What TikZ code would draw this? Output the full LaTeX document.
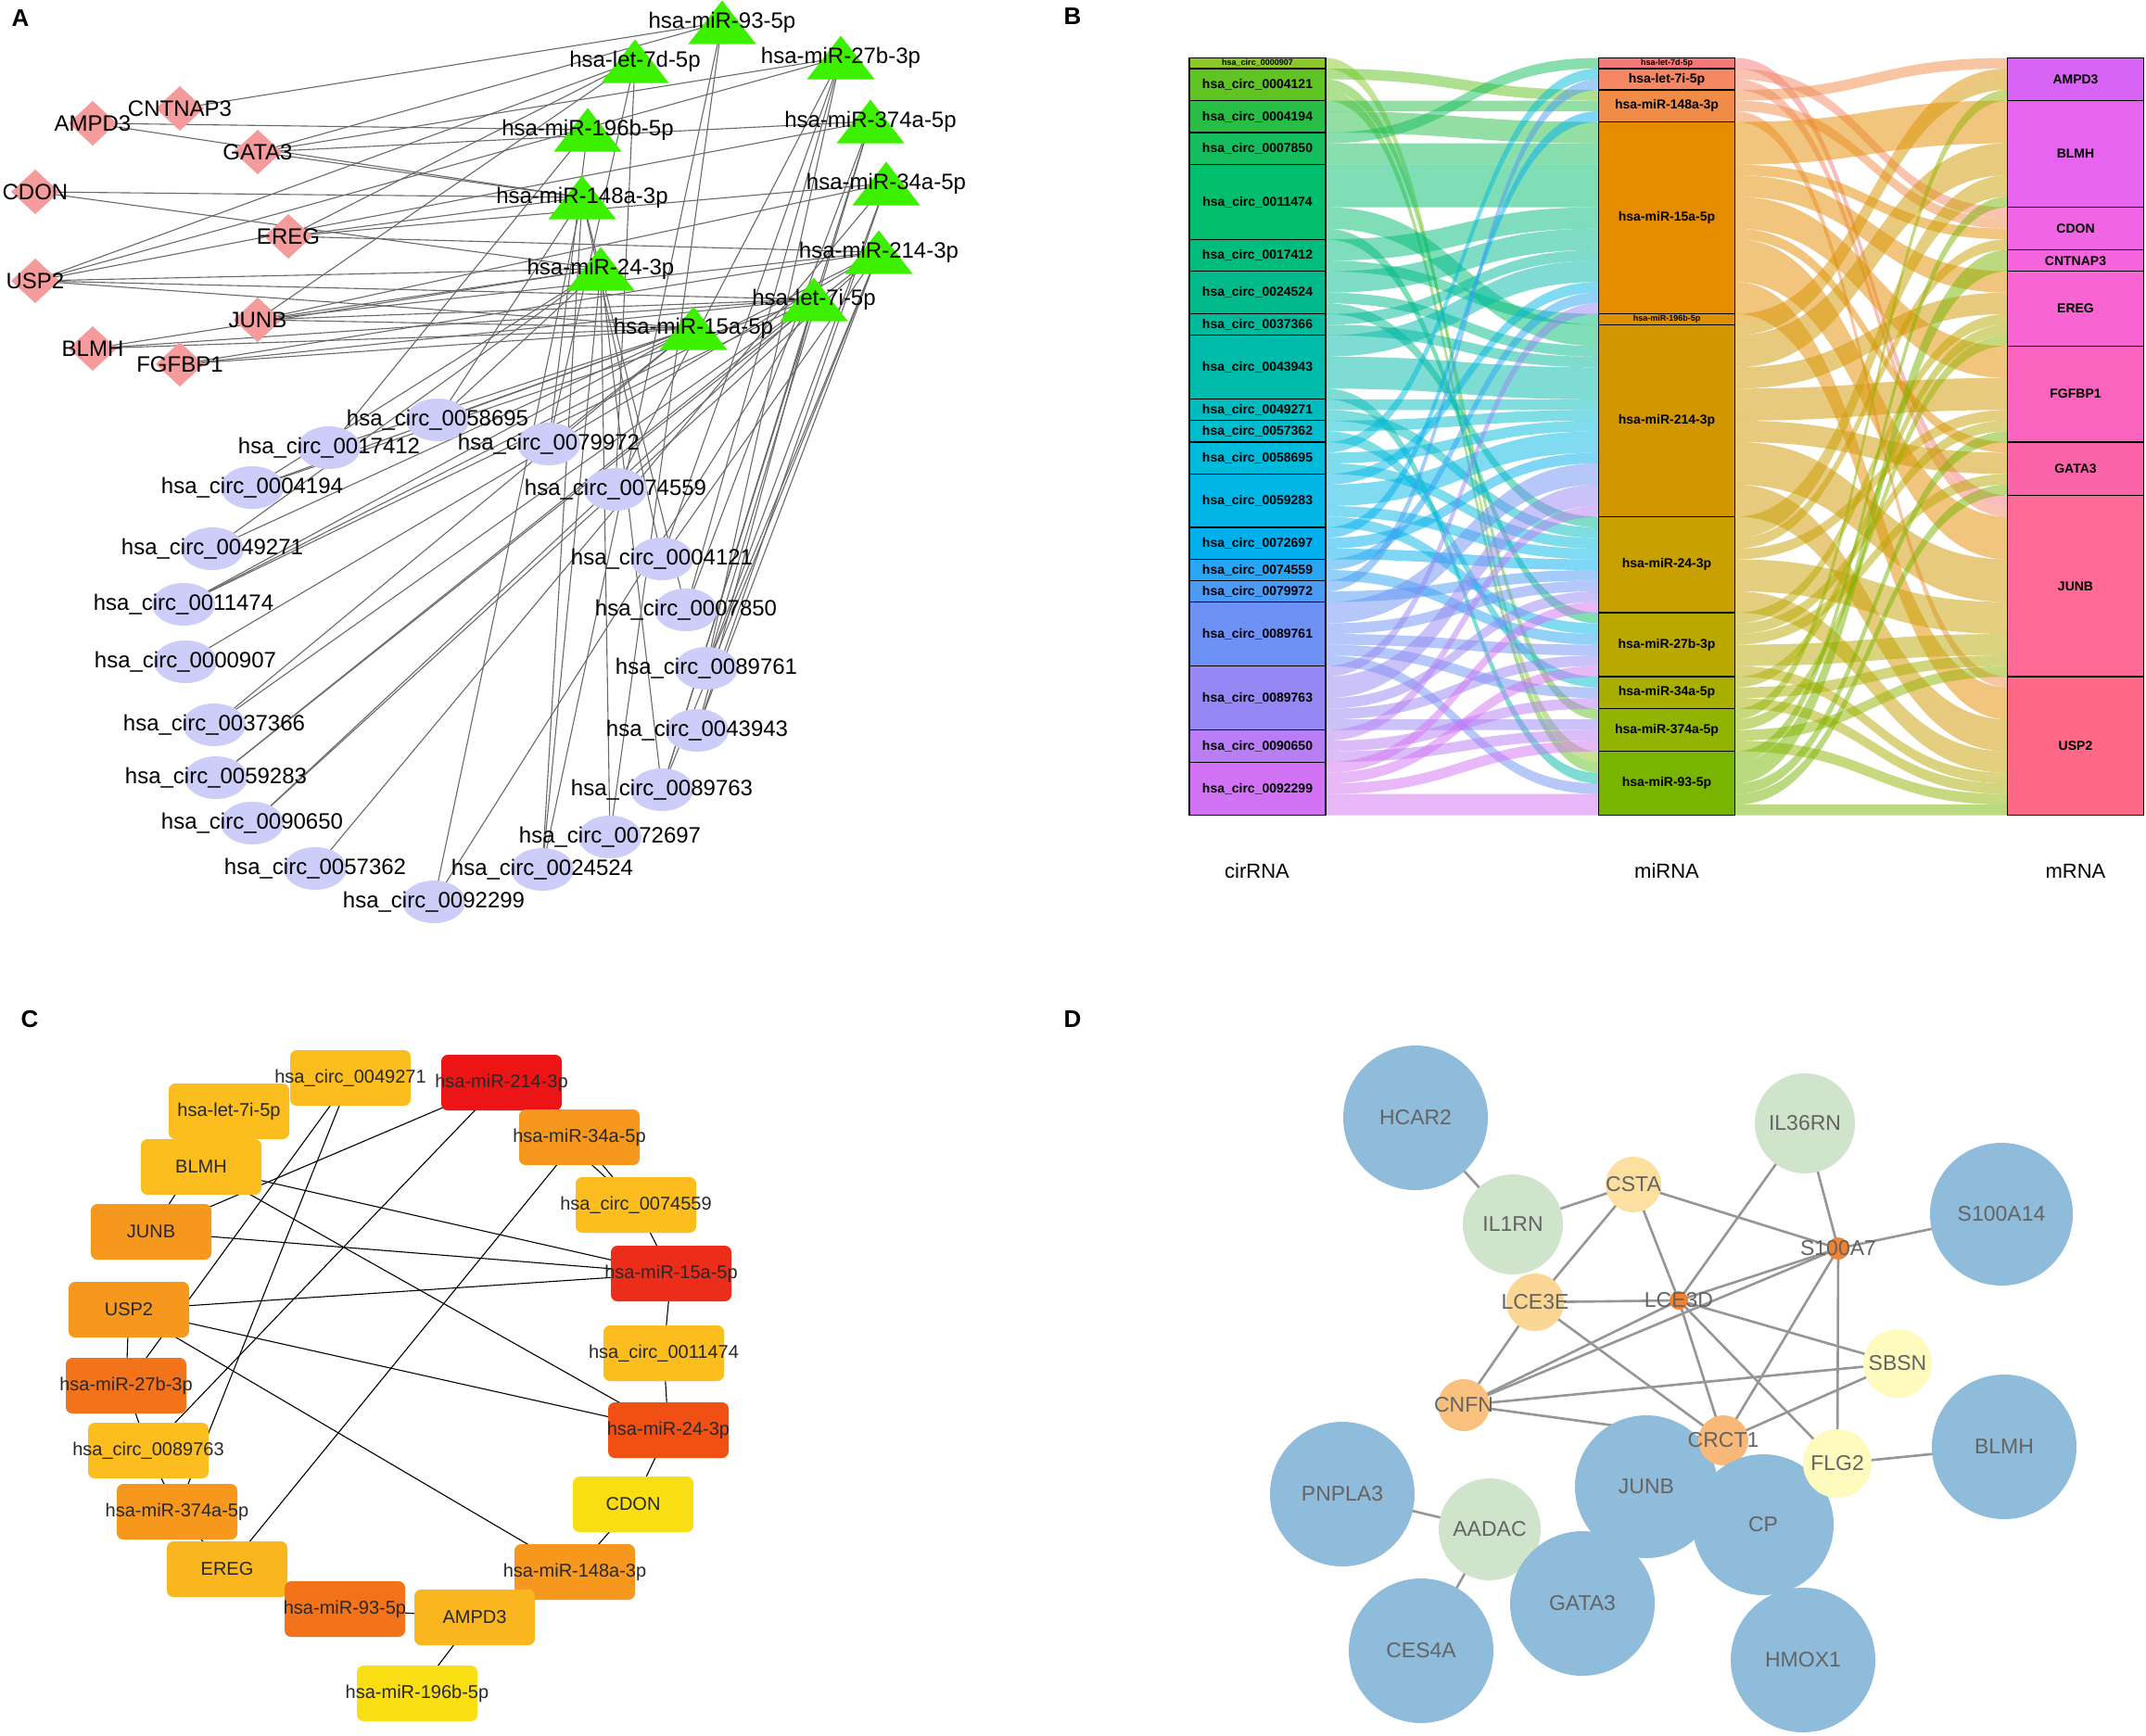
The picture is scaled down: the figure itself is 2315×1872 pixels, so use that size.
\documentclass[tikz,border=0pt]{standalone}
\usepackage{fontspec}
\setmainfont{Liberation Sans}
\newcommand\myfs[1]{\fontsize{#1}{#1}\selectfont}
% panel A colours
\definecolor{agray}{RGB}{105,105,105}
\definecolor{adia}{RGB}{245,155,155}
\definecolor{atri}{RGB}{60,240,0}
\definecolor{aell}{RGB}{205,205,250}
% panel B colours (circRNA)
\definecolor{bc1}{RGB}{140,200,40}
\definecolor{bc2}{RGB}{95,195,35}
\definecolor{bc3}{RGB}{40,190,70}
\definecolor{bc4}{RGB}{20,190,95}
\definecolor{bc5}{RGB}{0,190,110}
\definecolor{bc6}{RGB}{0,188,125}
\definecolor{bc7}{RGB}{0,186,140}
\definecolor{bc8}{RGB}{0,186,155}
\definecolor{bc9}{RGB}{0,186,170}
\definecolor{bc10}{RGB}{0,188,190}
\definecolor{bc11}{RGB}{0,188,205}
\definecolor{bc12}{RGB}{0,186,220}
\definecolor{bc13}{RGB}{0,182,230}
\definecolor{bc14}{RGB}{0,175,238}
\definecolor{bc15}{RGB}{40,165,245}
\definecolor{bc16}{RGB}{75,155,245}
\definecolor{bc17}{RGB}{110,145,245}
\definecolor{bc18}{RGB}{150,135,245}
\definecolor{bc19}{RGB}{185,125,245}
\definecolor{bc20}{RGB}{210,115,245}
% miRNA
\definecolor{bm1}{RGB}{245,120,120}
\definecolor{bm2}{RGB}{245,135,100}
\definecolor{bm3}{RGB}{240,140,70}
\definecolor{bm4}{RGB}{230,140,0}
\definecolor{bm5}{RGB}{222,145,0}
\definecolor{bm6}{RGB}{210,150,0}
\definecolor{bm7}{RGB}{200,160,0}
\definecolor{bm8}{RGB}{185,168,0}
\definecolor{bm9}{RGB}{168,175,0}
\definecolor{bm10}{RGB}{145,180,0}
\definecolor{bm11}{RGB}{120,180,0}
% mRNA
\definecolor{bg1}{RGB}{215,100,245}
\definecolor{bg2}{RGB}{230,100,240}
\definecolor{bg3}{RGB}{240,100,230}
\definecolor{bg4}{RGB}{245,100,220}
\definecolor{bg5}{RGB}{248,100,210}
\definecolor{bg6}{RGB}{250,100,190}
\definecolor{bg7}{RGB}{252,100,170}
\definecolor{bg8}{RGB}{255,105,150}
\definecolor{bg9}{RGB}{255,105,135}
% panel C
\definecolor{cyo}{RGB}{251,190,30}
\definecolor{cyo2}{RGB}{250,182,30}
\definecolor{corg}{RGB}{246,152,30}
\definecolor{cdo}{RGB}{242,115,25}
\definecolor{cro}{RGB}{240,80,20}
\definecolor{crr}{RGB}{236,45,25}
\definecolor{cred}{RGB}{236,20,20}
\definecolor{cyel}{RGB}{250,222,20}
\definecolor{ctext}{RGB}{40,40,40}
% panel D
\definecolor{dblue}{RGB}{143,188,219}
\definecolor{dgreen}{RGB}{208,228,204}
\definecolor{dcsta}{RGB}{252,224,160}
\definecolor{dlce}{RGB}{251,214,148}
\definecolor{dcnfn}{RGB}{250,192,125}
\definecolor{dcrct}{RGB}{248,185,120}
\definecolor{dpy}{RGB}{255,250,190}
\definecolor{dorg}{RGB}{240,130,50}
\definecolor{dedge}{RGB}{150,150,150}
\definecolor{dtext}{RGB}{100,100,100}

\tikzset{
  plabel/.style={font={\bfseries\myfs{26}}, inner sep=0pt},
  edgeA/.style={draw=agray, line width=1.1pt},
  lblA/.style={font={\myfs{24}}, inner sep=0pt, text=black},
  bbox/.style={draw=black, line width=1.3pt, minimum width=147pt, inner sep=0pt, font={\bfseries\myfs{14}}, text=black},
  bthin/.style={font={\bfseries\myfs{9}}},
  axislbl/.style={font={\myfs{22}}, inner sep=0pt},
  edgeC/.style={draw=black, line width=1.1pt},
  cbox/.style={rounded corners=7pt, minimum width=130pt, minimum height=60pt, inner sep=0pt},
  lblC/.style={font={\myfs{20}}, inner sep=0pt, text=ctext},
  edgeD/.style={draw=dedge, line width=2.6pt},
  dnode/.style={circle, inner sep=0pt},
  lblD/.style={font={\myfs{23}}, inner sep=0pt, text=dtext}
}

\begin{document}
\begin{tikzpicture}[x=1pt,y=-1pt]
\useasboundingbox (0,0) rectangle (2315,1872);
\fill[white] (0,0) rectangle (2315,1872);

\node[plabel] (labA) at (22,20) {A};
\node[plabel] (labB) at (1157,18) {B};
\node[plabel] (labC) at (32,1100) {C};
\node[plabel] (labD) at (1157,1100) {D};

%================ PANEL A =================
% mRNA (diamonds)
\coordinate (acntnap3) at (194,117);
\coordinate (aampd3) at (100,133);
\coordinate (agata3) at (278,164);
\coordinate (acdon) at (38,207);
\coordinate (aereg) at (311,255);
\coordinate (ausp2) at (38,303);
\coordinate (ajunb) at (278,345);
\coordinate (ablmh) at (100,376);
\coordinate (afgfbp1) at (194,393);
% miRNA (triangles)
\coordinate (am93) at (779,24);
\coordinate (al7d) at (685,66);
\coordinate (am27b) at (907,62);
\coordinate (am196b) at (634,140);
\coordinate (am374a) at (939,131);
\coordinate (am148a) at (628,213);
\coordinate (am34a) at (956,198);
\coordinate (am214) at (948,272);
\coordinate (am24) at (648,290);
\coordinate (al7i) at (878,323);
\coordinate (am15a) at (748,354);
% circRNA (ellipses)
\coordinate (ac0058695) at (472,453);
\coordinate (ac0017412) at (355,483);
\coordinate (ac0004194) at (272,526);
\coordinate (ac0049271) at (229,592);
\coordinate (ac0011474) at (198,652);
\coordinate (ac0000907) at (200,714);
\coordinate (ac0037366) at (231,782);
\coordinate (ac0059283) at (233,839);
\coordinate (ac0090650) at (272,888);
\coordinate (ac0057362) at (340,937);
\coordinate (ac0092299) at (468,973);
\coordinate (ac0079972) at (592,479);
\coordinate (ac0074559) at (664,528);
\coordinate (ac0004121) at (714,603);
\coordinate (ac0007850) at (740,658);
\coordinate (ac0089761) at (762,721);
\coordinate (ac0043943) at (752,788);
\coordinate (ac0089763) at (714,852);
\coordinate (ac0072697) at (658,903);
\coordinate (ac0024524) at (585,938);

\foreach \ea/\eb in {cntnap3/m93, gata3/m93, ampd3/m196b, ampd3/m148a, gata3/m27b, gata3/m374a, gata3/m148a,
  cdon/m148a, cdon/m24, ereg/l7d, ereg/m148a, ereg/m34a, ereg/m214, usp2/l7d, usp2/m374a, usp2/m24,
  usp2/m15a, usp2/l7i, usp2/m27b, junb/l7d, junb/m214, junb/l7i, junb/m15a, junb/m34a, junb/m24,
  blmh/m15a, blmh/l7i, blmh/m24, fgfbp1/l7i, fgfbp1/m214, fgfbp1/m15a,
  c0058695/m24, c0058695/m15a, c0058695/m148a, c0017412/m196b, c0017412/m15a, c0004194/m15a,
  c0004194/l7i, c0004194/m24, c0049271/m15a, c0049271/m24, c0011474/l7i, c0011474/m214, c0011474/m15a,
  c0000907/m214, c0037366/m15a, c0037366/l7i, c0059283/l7i, c0059283/m214, c0090650/l7i, c0090650/m214,
  c0057362/m34a, c0092299/m148a, c0092299/l7i, c0079972/l7d, c0079972/m196b, c0079972/m15a,
  c0074559/l7d, c0074559/m27b, c0004121/m27b, c0004121/m214, c0004121/m148a, c0007850/m148a,
  c0007850/m27b, c0007850/m374a, c0089761/m27b, c0089761/m374a, c0089761/m34a, c0089761/m214,
  c0043943/m214, c0043943/l7i, c0043943/m34a, c0089763/m214, c0089763/l7i, c0089763/m374a,
  c0089763/m24, c0072697/m24, c0072697/m93, c0024524/m148a, c0024524/m24, c0024524/m93}
  \draw[edgeA] (a\ea) -- (a\eb);

\foreach \nm in {cntnap3,ampd3,gata3,cdon,ereg,usp2,junb,blmh,fgfbp1}
  \fill[adia] ([shift={(-26,0)}]a\nm) -- ([shift={(0,-24)}]a\nm) -- ([shift={(26,0)}]a\nm) -- ([shift={(0,24)}]a\nm) -- cycle;
\foreach \nm in {m93,l7d,m27b,m196b,m374a,m148a,m34a,m214,m24,l7i,m15a}
  \fill[atri] ([shift={(-36.5,23.5)}]a\nm) -- ([shift={(0,-23.5)}]a\nm) -- ([shift={(36.5,23.5)}]a\nm) -- cycle;
\foreach \nm in {0058695,0017412,0004194,0049271,0011474,0000907,0037366,0059283,0090650,0057362,0092299,0079972,0074559,0004121,0007850,0089761,0043943,0089763,0072697,0024524}
  \fill[aell] (ac\nm) ellipse [x radius=34pt, y radius=23pt];

\foreach \nm/\tx in {cntnap3/CNTNAP3, ampd3/AMPD3, gata3/GATA3, cdon/CDON, ereg/EREG, usp2/USP2, junb/JUNB, blmh/BLMH, fgfbp1/FGFBP1,
  m93/hsa-miR-93-5p, l7d/hsa-let-7d-5p, m27b/hsa-miR-27b-3p, m196b/hsa-miR-196b-5p, m374a/hsa-miR-374a-5p,
  m148a/hsa-miR-148a-3p, m34a/hsa-miR-34a-5p, m214/hsa-miR-214-3p, m24/hsa-miR-24-3p, l7i/hsa-let-7i-5p, m15a/hsa-miR-15a-5p}
  \node[lblA] (la\nm) at (a\nm) {\tx};
\foreach \nm in {0058695,0017412,0004194,0049271,0011474,0000907,0037366,0059283,0090650,0057362,0092299,0079972,0074559,0004121,0007850,0089761,0043943,0089763,0072697,0024524}
  \node[lblA] (lac\nm) at (ac\nm) {hsa\_circ\_\nm};

%================ PANEL B =================
% flows circRNA -> miRNA
\foreach \sa/\ta/\ka/\ca in {0/65/1/bc1, 1/3/1/bc2, 2/61/1/bc2, 3/66/1/bc2, 4/4/1/bc3, 5/6/2/bc3,
  7/0/1/bc4, 8/8/2/bc4, 10/10/4/bc5, 14/25/2/bc5, 16/52/1/bc5, 17/14/2/bc6, 19/24/1/bc6,
  20/16/2/bc7, 22/27/1/bc7, 23/43/1/bc7, 24/18/1/bc8, 25/28/1/bc8, 26/19/2/bc9, 28/29/3/bc9, 31/67/1/bc9,
  32/32/1/bc10, 33/44/1/bc10, 34/33/1/bc11, 35/58/1/bc11, 36/1/1/bc12, 37/34/1/bc12, 38/45/1/bc12,
  39/21/1/bc13, 40/35/2/bc13, 42/46/1/bc13, 43/53/1/bc13, 44/5/1/bc14, 45/37/1/bc14, 46/47/1/bc14,
  47/22/1/bc15, 48/54/1/bc15, 49/2/1/bc16, 50/48/1/bc16,
  51/38/2/bc17, 53/49/1/bc17, 54/55/1/bc17, 55/59/1/bc17, 56/68/1/bc17,
  57/23/1/bc18, 58/40/2/bc18, 60/50/1/bc18, 61/56/1/bc18, 62/62/1/bc18,
  63/42/1/bc19, 64/60/1/bc19, 65/63/1/bc19, 66/51/1/bc20, 67/57/1/bc20, 68/64/1/bc20, 69/69/2/bc20}
{
  \fill[fill=\ca, fill opacity=0.5] (1430,{62.5+11.51*\sa}) .. controls (1577,{62.5+11.51*\sa}) and (1577,{62.5+11.51*\ta}) .. (1724,{62.5+11.51*\ta})
    -- (1724,{62.5+11.51*(\ta+\ka)}) .. controls (1577,{62.5+11.51*(\ta+\ka)}) and (1577,{62.5+11.51*(\sa+\ka)}) .. (1430,{62.5+11.51*(\sa+\ka)}) -- cycle;
}
% flows miRNA -> mRNA
\foreach \sa/\ta/\ka/\ca in {0/41/1/bm1, 1/14/1/bm2, 2/42/1/bm2, 3/0/1/bm3, 4/15/1/bm3, 5/58/1/bm3,
  6/4/4/bm4, 10/16/1/bm4, 11/20/2/bm4, 13/27/3/bm4, 16/36/1/bm4, 17/43/4/bm4, 21/59/3/bm4,
  24/1/1/bm5, 25/2/1/bm6, 26/8/3/bm6, 29/22/2/bm6, 31/30/3/bm6, 34/37/2/bm6, 36/47/4/bm6, 40/62/3/bm6,
  43/11/2/bm7, 45/17/1/bm7, 46/33/1/bm7, 47/51/3/bm7, 50/65/2/bm7,
  52/24/1/bm8, 53/34/1/bm8, 54/39/1/bm8, 55/54/2/bm8, 57/67/1/bm8,
  58/25/1/bm9, 59/56/1/bm9, 60/68/1/bm9, 61/3/1/bm10, 62/26/1/bm10, 63/57/1/bm10, 64/69/1/bm10,
  65/13/1/bm11, 66/18/2/bm11, 68/35/1/bm11, 69/40/1/bm11, 70/70/1/bm11}
{
  \fill[fill=\ca, fill opacity=0.5] (1872,{62.5+11.51*\sa}) .. controls (2019,{62.5+11.51*\sa}) and (2019,{62.5+11.51*\ta}) .. (2166,{62.5+11.51*\ta})
    -- (2166,{62.5+11.51*(\ta+\ka)}) .. controls (2019,{62.5+11.51*(\ta+\ka)}) and (2019,{62.5+11.51*(\sa+\ka)}) .. (1872,{62.5+11.51*(\sa+\ka)}) -- cycle;
}
% boxes
\foreach \nm/\st/\kk/\col in {0004121/1/3/bc2, 0004194/4/3/bc3, 0007850/7/3/bc4, 0011474/10/7/bc5,
  0017412/17/3/bc6, 0024524/20/4/bc7, 0037366/24/2/bc8, 0043943/26/6/bc9, 0049271/32/2/bc10,
  0057362/34/2/bc11, 0058695/36/3/bc12, 0059283/39/5/bc13, 0072697/44/3/bc14, 0074559/47/2/bc15,
  0079972/49/2/bc16, 0089761/51/6/bc17, 0089763/57/6/bc18, 0090650/63/3/bc19, 0092299/66/5/bc20}
  \node[bbox, fill=\col, minimum height={\kk*11.51pt}] (bc\nm) at (1356.5,{62.5+11.51*(\st+\kk/2)}) {hsa\_circ\_\nm};
\node[bbox, bthin, fill=bc1, minimum height=11.51pt] (bc0000907) at (1356.5,{62.5+11.51*0.5}) {hsa\_circ\_0000907};

\foreach \nm/\st/\kk/\col/\tx in {l7i/1/2/bm2/hsa-let-7i-5p, m148a/3/3/bm3/hsa-miR-148a-3p, m15a/6/18/bm4/hsa-miR-15a-5p,
  m214/25/18/bm6/hsa-miR-214-3p, m24/43/9/bm7/hsa-miR-24-3p, m27b/52/6/bm8/hsa-miR-27b-3p,
  m34a/58/3/bm9/hsa-miR-34a-5p, m374a/61/4/bm10/hsa-miR-374a-5p, m93/65/6/bm11/hsa-miR-93-5p}
  \node[bbox, fill=\col, minimum height={\kk*11.51pt}] (bm\nm) at (1798,{62.5+11.51*(\st+\kk/2)}) {\tx};
\node[bbox, bthin, fill=bm1, minimum height=11.51pt] (bml7d) at (1798,{62.5+11.51*0.5}) {hsa-let-7d-5p};
\node[bbox, bthin, fill=bm5, minimum height=11.51pt] (bmm196b) at (1798,{62.5+11.51*24.5}) {hsa-miR-196b-5p};

\foreach \nm/\st/\kk/\col in {AMPD3/0/4/bg1, BLMH/4/10/bg2, CDON/14/4/bg3, CNTNAP3/18/2/bg4, EREG/20/7/bg5,
  FGFBP1/27/9/bg6, GATA3/36/5/bg7, JUNB/41/17/bg8, USP2/58/13/bg9}
  \node[bbox, fill=\col, minimum height={\kk*11.51pt}] (bg\nm) at (2239,{62.5+11.51*(\st+\kk/2)}) {\nm};

\node[axislbl] (axc) at (1356,940) {cirRNA};
\node[axislbl] (axm) at (1798,940) {miRNA};
\node[axislbl] (axg) at (2239,940) {mRNA};

%================ PANEL C =================
\coordinate (ccc49271) at (378,1163);
\coordinate (ccm214) at (541,1168);
\coordinate (ccl7i) at (247,1199);
\coordinate (ccm34a) at (625,1227);
\coordinate (ccblmh) at (217,1259);
\coordinate (ccc74559) at (686,1300);
\coordinate (ccjunb) at (163,1329);
\coordinate (ccm15a) at (724,1374);
\coordinate (ccusp2) at (139,1413);
\coordinate (ccc11474) at (716,1460);
\coordinate (ccm27b) at (136,1495);
\coordinate (ccm24) at (721,1543);
\coordinate (ccc89763) at (160,1565);
\coordinate (cccdon) at (683,1623);
\coordinate (ccm374a) at (191,1631);
\coordinate (ccereg) at (245,1693);
\coordinate (ccm148a) at (620,1696);
\coordinate (ccm93) at (372,1736);
\coordinate (ccampd3) at (512,1745);
\coordinate (ccm196b) at (450,1827);

\foreach \ea/\eb in {c49271/m27b, c49271/m374a, m214/c89763, m214/junb, m214/c74559, m34a/ereg, m34a/c74559,
  c74559/m15a, m15a/c11474, c11474/m24, m24/cdon, cdon/m148a, ampd3/m93, ampd3/m196b, ereg/m374a,
  m374a/c89763, c89763/m27b, m27b/usp2, usp2/m15a, usp2/m24, usp2/m148a, junb/m15a, blmh/m15a, blmh/m24, l7i/junb}
  \draw[edgeC] (cc\ea) -- (cc\eb);

\foreach \nm/\col in {c49271/cyo, m214/cred, l7i/cyo, m34a/corg, blmh/cyo, c74559/cyo, junb/corg, m15a/crr,
  usp2/corg, c11474/cyo, m27b/cdo, m24/cro, c89763/cyo, cdon/cyel, m374a/corg, ereg/cyo2, m148a/corg,
  m93/cdo, ampd3/cyo2, m196b/cyel}
  \node[cbox, fill=\col] (cb\nm) at (cc\nm) {};

\foreach \nm/\tx in {c49271/hsa\_circ\_0049271, m214/hsa-miR-214-3p, l7i/hsa-let-7i-5p, m34a/hsa-miR-34a-5p,
  blmh/BLMH, c74559/hsa\_circ\_0074559, junb/JUNB, m15a/hsa-miR-15a-5p, usp2/USP2, c11474/hsa\_circ\_0011474,
  m27b/hsa-miR-27b-3p, m24/hsa-miR-24-3p, c89763/hsa\_circ\_0089763, cdon/CDON, m374a/hsa-miR-374a-5p,
  ereg/EREG, m148a/hsa-miR-148a-3p, m93/hsa-miR-93-5p, ampd3/AMPD3, m196b/hsa-miR-196b-5p}
  \node[lblC] (cl\nm) at (cc\nm) {\tx};

%================ PANEL D =================
\coordinate (ddhcar2) at (1527,1206);
\coordinate (ddil36rn) at (1947,1212);
\coordinate (dds100a14) at (2159,1310);
\coordinate (ddil1rn) at (1632,1321);
\coordinate (ddcsta) at (1762,1278);
\coordinate (dds100a7) at (1983,1347);
\coordinate (ddlce3e) at (1656,1405);
\coordinate (ddlce3d) at (1811,1403);
\coordinate (ddsbsn) at (2047,1471);
\coordinate (ddcnfn) at (1579,1516);
\coordinate (ddcrct1) at (1859,1554);
\coordinate (ddflg2) at (1982,1579);
\coordinate (ddblmh) at (2162,1561);
\coordinate (ddpnpla3) at (1448,1612);
\coordinate (ddjunb) at (1776,1604);
\coordinate (ddaadac) at (1607,1650);
\coordinate (ddcp) at (1902,1645);
\coordinate (ddgata3) at (1707,1730);
\coordinate (ddces4a) at (1533,1781);
\coordinate (ddhmox1) at (1945,1791);

\foreach \ea/\eb in {hcar2/il1rn, il1rn/csta, csta/lce3e, csta/lce3d, csta/s100a7, il36rn/lce3d, il36rn/s100a7,
  s100a7/s100a14, s100a7/lce3d, s100a7/cnfn, s100a7/crct1, s100a7/flg2, lce3e/lce3d, lce3e/cnfn, lce3e/crct1,
  lce3d/cnfn, lce3d/sbsn, lce3d/crct1, lce3d/flg2, cnfn/sbsn, cnfn/crct1, crct1/sbsn, flg2/blmh,
  pnpla3/aadac, aadac/ces4a}
  \draw[edgeD] (dd\ea) -- (dd\eb);

\foreach \nm/\rr/\col in {hcar2/78/dblue, il36rn/54/dgreen, s100a14/77/dblue, il1rn/54/dgreen, csta/30/dcsta,
  s100a7/12/dorg, lce3e/31/dlce, lce3d/10/dorg, sbsn/37/dpy, cnfn/28/dcnfn, blmh/78/dblue,
  pnpla3/78/dblue, aadac/55/dgreen, ces4a/78/dblue, hmox1/78/dblue, junb/77/dblue, crct1/27/dcrct,
  cp/76/dblue, gata3/78/dblue, flg2/37/dpy}
  \node[dnode, fill=\col, minimum size={2*\rr*1pt}] (dn\nm) at (dd\nm) {};

\foreach \nm/\tx in {hcar2/HCAR2, il36rn/IL36RN, s100a14/S100A14, il1rn/IL1RN, csta/CSTA, s100a7/S100A7,
  lce3e/LCE3E, lce3d/LCE3D, sbsn/SBSN, cnfn/CNFN, crct1/CRCT1, flg2/FLG2, blmh/BLMH, pnpla3/PNPLA3,
  junb/JUNB, aadac/AADAC, cp/CP, gata3/GATA3, ces4a/CES4A, hmox1/HMOX1}
  \node[lblD] (dl\nm) at (dd\nm) {\tx};

\end{tikzpicture}
\end{document}
